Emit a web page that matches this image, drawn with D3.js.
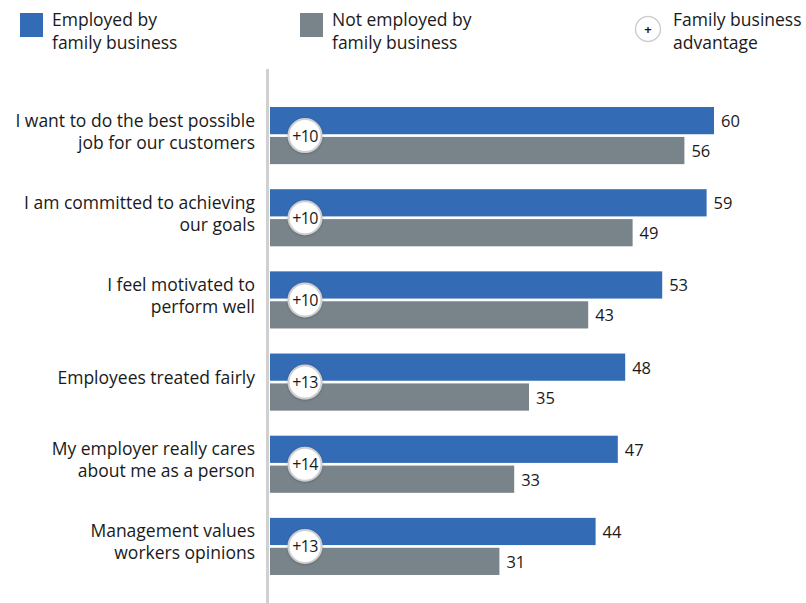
<!DOCTYPE html>
<html><head><meta charset="utf-8">
<script src="https://cdn.jsdelivr.net/npm/d3@7"></script>
<style>
body{margin:0;background:#fff;}
text{font-family:"Open Sans","Lato",sans-serif;fill:#1a1a1a;}
</style></head>
<body><svg id="chart" width="806" height="603"></svg>
<script>
const categories = [
  ["I want to do the best possible", "job for our customers"],
  ["I am committed to achieving", "our goals"],
  ["I feel motivated to", "perform well"],
  ["Employees treated fairly"],
  ["My employer really cares", "about me as a person"],
  ["Management values", "workers opinions"]
];
const employed = [60, 59, 53, 48, 47, 44];
const notEmployed = [56, 49, 43, 35, 33, 31];
const advantage = ["+10", "+10", "+10", "+13", "+14", "+13"];
const seriesNames = ["Employed by|family business", "Not employed by|family business"];
const advantageLabel = "Family business|advantage";
const colors = ["#346bb5", "#78838a"];

const svg = d3.select("#chart");
const x = d3.scaleLinear().domain([0, 70]).range([270, 788]);
const ids = categories.map((d, i) => i);
const y = d3.scaleBand().domain(ids).range([94.5, 587.5]).paddingInner(0.305).paddingOuter(0.1525);
const ySub = d3.scaleBand().domain([0, 1]).range([0, y.bandwidth()]).paddingInner(0.09);

// axis line
svg.append("line").attr("x1", 267.5).attr("x2", 267.5).attr("y1", 69).attr("y2", 603)
  .attr("stroke", "#d0d0d0").attr("stroke-width", 3);

const defs = svg.append("defs");
const f = defs.append("filter").attr("id", "sh").attr("x", "-30%").attr("y", "-30%").attr("width", "160%").attr("height", "160%");
f.append("feDropShadow").attr("dx", 0).attr("dy", 0.5).attr("stdDeviation", 1).attr("flood-color", "#000").attr("flood-opacity", 0.25);

const series = [employed, notEmployed];
series.forEach((vals, s) => {
  svg.append("g").selectAll("rect").data(vals).join("rect")
    .attr("x", x(0)).attr("y", (d, i) => y(i) + ySub(s))
    .attr("width", d => x(d) - x(0)).attr("height", ySub.bandwidth())
    .attr("fill", colors[s]);
  svg.append("g").selectAll("text").data(vals).join("text")
    .attr("x", d => x(d) + 7).attr("y", (d, i) => y(i) + ySub(s) + ySub.bandwidth() / 2)
    .attr("dominant-baseline", "central").attr("font-size", 16.5).text(d => d);
});

// category labels
const lab = svg.append("g").selectAll("text").data(categories).join("text")
  .attr("text-anchor", "end").attr("font-size", 17.5);
lab.each(function(lines, i) {
  const mid = y(i) + y.bandwidth() / 2 - 5;
  const start = mid - (lines.length - 1) * 11;
  d3.select(this).selectAll("tspan").data(lines).join("tspan")
    .attr("x", 255).attr("y", (d, j) => start + j * 22)
    .attr("dominant-baseline", "central").text(d => d);
});

// advantage circles
const cg = svg.append("g").selectAll("g").data(advantage).join("g")
  .attr("transform", (d, i) => `translate(305,${y(i) + ySub(1) - ySub.step() * ySub.paddingInner() / 2})`);
cg.append("circle").attr("r", 16.5).attr("fill", "#fff").attr("stroke", "#cfcfcf").attr("stroke-width", 2).attr("filter", "url(#sh)");
cg.append("text").attr("text-anchor", "middle").attr("dominant-baseline", "central").attr("font-size", 16).attr("letter-spacing", -0.6).text(d => d);

// legend
const leg = svg.append("g");
[20, 300].forEach((lx, s) => {
  leg.append("rect").attr("x", lx).attr("y", 13).attr("width", 23).attr("height", 24).attr("fill", colors[s]);
  const t = leg.append("text").attr("font-size", 17.5);
  seriesNames[s].split("|").forEach((ln, j) => t.append("tspan").attr("x", lx + 32).attr("y", 19 + j * 23).attr("dominant-baseline", "central").text(ln));
});
leg.append("circle").attr("cx", 648).attr("cy", 29).attr("r", 12.5).attr("fill", "#fff").attr("stroke", "#cfcfcf").attr("stroke-width", 1.5);
leg.append("text").attr("x", 648).attr("y", 29).attr("text-anchor", "middle").attr("dominant-baseline", "central").attr("font-size", 13).attr("font-weight", "bold").text("+");
const at = leg.append("text").attr("font-size", 17.5);
advantageLabel.split("|").forEach((ln, j) => at.append("tspan").attr("x", 673).attr("y", 19 + j * 23).attr("dominant-baseline", "central").text(ln));
</script></body></html>
